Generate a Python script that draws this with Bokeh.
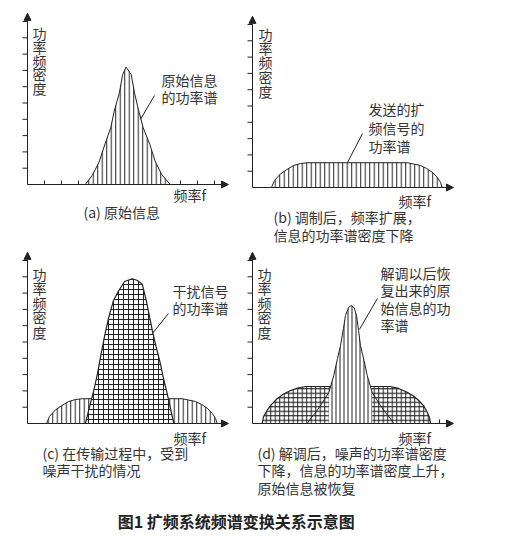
from bokeh.plotting import figure
from bokeh.layouts import column, row
from bokeh.models import Range1d, LinearAxis, FixedTicker, Arrow, NormalHead
from bokeh.embed import file_html
from bokeh.resources import INLINE
from bokeh.core.properties import value

FONT = "Noto Sans CJK SC"
INK = "#222222"
TXT = "#333333"
EM = 1.45  # line-box height of the CJK font in em

# ---- data (frequency f, power spectral density) ----
# (a) original information spectrum
info_f = [3.4, 3.8, 4.2, 4.5, 4.9, 5.1, 5.4, 5.6, 5.8, 6.1, 6.3, 6.5, 6.8, 7.2, 7.5, 7.9, 8.4]
info_p = [0, 0.55, 1.35, 2.3, 3.5, 4.5, 5.6, 6.75, 7.2, 6.75, 5.6, 4.7, 3.5, 2.45, 1.45, 0.6, 0]
# (b)/(c) spread-spectrum transmitted signal
spread_f = [1.12, 1.29, 1.65, 2.06, 2.43, 2.82, 3.22, 9.1, 9.47, 9.88, 10.24, 10.57, 10.88, 11.06, 11.16]
spread_p = [0, 0.43, 0.84, 1.13, 1.35, 1.47, 1.52, 1.52, 1.44, 1.35, 1.17, 0.94, 0.61, 0.31, 0]
# (c) interference signal
jam_f = [3.41, 3.65, 3.9, 4.12, 4.29, 4.53, 4.78, 5.06, 5.37, 5.71, 6.16, 6.47, 6.75, 7.0, 7.34,
         7.59, 7.82, 8.0, 8.22, 8.41, 8.61]
jam_p = [0, 1.04, 2.03, 3.07, 4.06, 5.34, 6.52, 7.55, 8.16, 8.71, 8.88, 8.77, 8.55, 7.48, 5.71,
         4.6, 3.66, 2.76, 1.82, 0.92, 0]
# (d) interference after despreading
noise_f = [0.57, 0.65, 0.86, 1.12, 1.45, 1.82, 2.24, 2.65, 3.12, 8.12, 8.59, 9.1, 9.47, 9.78,
           10.06, 10.28, 10.41, 10.47]
noise_p = [0, 0.43, 0.8, 1.17, 1.52, 1.81, 2.02, 2.18, 2.27, 2.27, 2.15, 1.92, 1.69, 1.41,
           1.1, 0.69, 0.37, 0]
# (d) recovered original information
rec_f = [3.22, 3.41, 3.71, 4.0, 4.24, 4.49, 4.78, 5.0, 5.18, 5.35, 5.47, 5.65, 5.81, 5.97, 6.12,
         6.24, 6.35, 6.56, 6.75, 7.04, 7.29, 7.53, 7.82, 8.12, 8.31]
rec_p = [0, 0.29, 0.67, 1.1, 1.5, 1.9, 2.94, 3.99, 4.79, 5.83, 6.63, 7.12, 7.24, 7.12, 6.63,
         5.71, 4.79, 3.87, 2.94, 1.9, 1.5, 1.1, 0.67, 0.29, 0]

x_ticks = list(range(1, 12))
y_ticks = list(range(1, 11))
F_MAX = 11.82
P_MAX = 10.5
PX_X = 1 / 17.0   # data units per pixel along f
PX_Y = 1 / 16.3   # data units per pixel along density

y_label = "\n".join(list("功率频密度"))
title_text = "图1  扩频系统频谱变换关系示意图"


def panel(width, height, xr, yr, xticks):
    p = figure(width=width, height=height, x_range=Range1d(*xr), y_range=Range1d(*yr),
               output_backend="svg", toolbar_location=None, min_border=0,
               x_axis_type=None, y_axis_type=None)
    p.outline_line_color = None
    p.background_fill_color = "white"
    xa = LinearAxis(fixed_location=0, ticker=FixedTicker(ticks=[], minor_ticks=[]),
                    bounds=(0, F_MAX - 0.3), major_tick_in=0, major_tick_out=0,
                    minor_tick_in=0, minor_tick_out=0, axis_line_color=INK)
    ya = LinearAxis(fixed_location=0, ticker=FixedTicker(ticks=[], minor_ticks=[]),
                    bounds=(0, P_MAX - 0.3), major_tick_in=0, major_tick_out=0,
                    minor_tick_in=0, minor_tick_out=0, axis_line_color=INK)
    p.add_layout(xa, "below")
    p.add_layout(ya, "left")
    # tick marks: y ticks point outward (left), x ticks point inward (up)
    n = len(y_ticks)
    p.segment(x0=[-5 * PX_X] * n, y0=y_ticks, x1=[0] * n, y1=y_ticks, line_color=INK, line_width=1)
    if xticks:
        m = len(xticks)
        p.segment(x0=xticks, y0=[0] * m, x1=xticks, y1=[4 * PX_Y] * m, line_color=INK, line_width=1)
    p.add_layout(Arrow(end=NormalHead(size=7, fill_color=INK, line_color=INK),
                       x_start=F_MAX - 0.6, y_start=0, x_end=F_MAX, y_end=0, line_color=INK))
    p.add_layout(Arrow(end=NormalHead(size=7, fill_color=INK, line_color=INK),
                       x_start=0, y_start=P_MAX - 0.6, x_end=0, y_end=P_MAX, line_color=INK))
    return p


def txt(p, x, y, s, spacing=18, size=14, **kw):
    p.text(x=[x], y=[y], text=[s], text_font=value(FONT), text_font_size=f"{size}px",
           text_line_height=spacing / (size * EM), text_align="left", text_baseline="middle",
           text_color=TXT, **kw)


VH = dict(hatch_pattern="vertical_line", hatch_color=INK, hatch_weight=1)
CR = dict(hatch_pattern="cross", hatch_color=INK, hatch_weight=1)

H1, H2 = 246, 254

# (a)
pa = panel(245, H1, (-27 * PX_X, 218 * PX_X), ((184 - H1) * PX_Y, 184 * PX_Y), x_ticks)
pa.patch(info_f, info_p, fill_color="white", hatch_scale=4.5, line_color=INK, line_width=1, **VH)
pa.segment(x0=[7.47], y0=[5.46], x1=[6.65], y1=[4.0], line_color=INK, line_width=1)
txt(pa, 0.29, 7.6, y_label, spacing=14)
txt(pa, 7.88, 5.89, "原始信息\n的功率谱", spacing=18)
txt(pa, 8.59, -0.67, "频率f")
txt(pa, 3.29, -1.66, "(a) 原始信息")

# (b)
pb = panel(287, H1, (-7 * PX_X, 280 * PX_X), ((187 - H1) * PX_Y, 187 * PX_Y), [])
pb.patch(spread_f, spread_p, fill_color="white", hatch_scale=4.5, line_color=INK, line_width=1, **VH)
pb.segment(x0=[6.47], y0=[3.31], x1=[5.59], y1=[1.53], line_color=INK, line_width=1)
txt(pb, 0.35, 7.67, y_label, spacing=14.7)
txt(pb, 6.82, 3.68, "发送的扩\n频信号的\n功率谱", spacing=19)
txt(pb, 8.59, -0.8, "频率f")
txt(pb, 1.24, -2.36, "(b) 调制后，频率扩展，\n信息的功率谱密度下降", spacing=19)

# (c)
pc = panel(245, H2, (-27 * PX_X, 218 * PX_X), ((177 - H2) * PX_Y, 177 * PX_Y), [])
pc.patch(spread_f, spread_p, fill_color="white", hatch_scale=4.5, line_color=INK, line_width=1, **VH)
pc.patch(jam_f, jam_p, fill_color="white", hatch_scale=5, line_color=INK, line_width=1.2, **CR)
pc.segment(x0=[8.29], y0=[6.75], x1=[7.35], y1=[5.52], line_color=INK, line_width=1)
txt(pc, 0.29, 7.42, y_label, spacing=14.7)
txt(pc, 8.53, 7.61, "干扰信号\n的功率谱", spacing=18)
txt(pc, 8.59, -0.86, "频率f")
txt(pc, 0.88, -2.33, "(c) 在传输过程中，受到\n噪声干扰的情况", spacing=18)

# (d)
pd = panel(287, H2, (-7 * PX_X, 280 * PX_X), ((177 - H2) * PX_Y, 177 * PX_Y), x_ticks)
pd.patch(noise_f, noise_p, fill_color="white", hatch_scale=4.5, line_color=INK, line_width=1.2, **CR)
core_f = [rec_f[5]] + rec_f[5:20] + [rec_f[19]]
core_p = [0] + rec_p[5:20] + [0]
pd.patch(core_f, core_p, fill_color="white", hatch_scale=4, line_color=None, **VH)
pd.line(rec_f, rec_p, line_color=INK, line_width=1)
pd.segment(x0=[7.35], y0=[7.67], x1=[6.29], y1=[5.77], line_color=INK, line_width=1)
txt(pd, 0.3, 7.42, y_label, spacing=14.7)
txt(pd, 7.53, 7.64, "解调以后恢\n复出来的原\n始信息的功\n率谱", spacing=17.7)
txt(pd, 8.59, -0.86, "频率f")
txt(pd, 0.29, -2.88, "(d) 解调后，噪声的功率谱密度\n下降，信息的功率谱密度上升，\n原始信息被恢复", spacing=18)

# title strip
pt = figure(width=532, height=54, x_range=Range1d(0, 532), y_range=Range1d(54, 0),
            output_backend="svg", toolbar_location=None, min_border=0,
            x_axis_type=None, y_axis_type=None)
pt.outline_line_color = None
pt.text(x=[237.5], y=[20], text=[title_text], text_font=value(FONT), text_font_size="16px",
        text_font_style="bold", text_align="center", text_baseline="middle", text_color=INK)

layout = column(row(pa, pb), row(pc, pd), pt)
open("out.html", "w").write(file_html(layout, INLINE))
